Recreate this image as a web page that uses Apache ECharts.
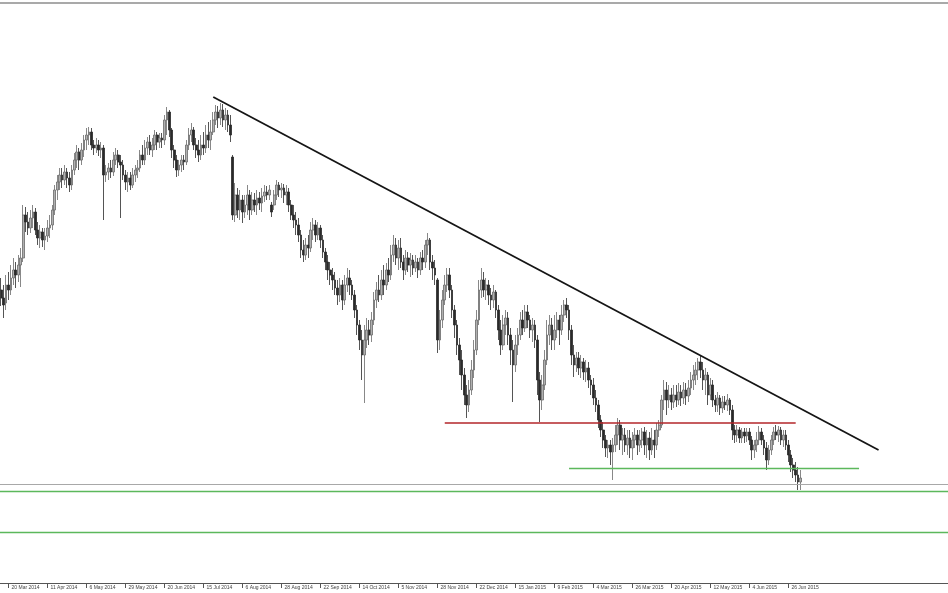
<!DOCTYPE html>
<html>
<head>
<meta charset="utf-8">
<script src="https://cdn.jsdelivr.net/npm/echarts@6/dist/echarts.min.js"></script>
<style>
html,body{margin:0;padding:0;background:#fff;}
#c{width:948px;height:593px;}
</style>
</head>
<body>
<div id="c"></div>
<script>
// Tick labels (every 16 bars, first at bar index 3)
const tickLabels = ['20 Mar 2014','11 Apr 2014','6 May 2014','29 May 2014','20 Jun 2014','15 Jul 2014','6 Aug 2014','28 Aug 2014','22 Sep 2014','14 Oct 2014','5 Nov 2014','28 Nov 2014','22 Dec 2014','15 Jan 2015','9 Feb 2015','4 Mar 2015','26 Mar 2015','20 Apr 2015','12 May 2015','4 Jun 2015','26 Jun 2015'];
const firstTickBar = 3;
const barsPerTick = 16;
const totalSlots = 389; // bars + empty right margin (chart shift)

// Daily bars: [open, close, low, high]
const ohlc = [
[310,302,294,322],[302,295,282,315],[297,315,290,325],[315,310,300,328],[310,322,305,335],
[322,330,315,342],[330,325,312,338],[325,335,318,345],[335,342,313,352],[342,385,338,395],
[385,378,368,393],[378,372,365,388],[372,382,367,390],[382,388,372,395],[388,370,365,392],
[370,362,355,378],[362,368,352,375],[368,360,353,372],[360,364,350,372],[364,372,358,380],
[372,375,362,385],[375,390,370,395],[390,410,385,415],[410,418,400,425],[418,425,410,432],
[425,420,412,432],[420,428,415,435],[428,422,412,432],[422,415,408,428],[415,430,410,435],
[430,440,425,447],[440,448,432,455],[448,440,430,452],[440,450,435,457],[450,460,443,465],
[460,465,450,472],[465,468,455,473],[468,455,450,472],[455,452,445,460],[452,455,447,462],
[455,450,444,460],[450,452,442,458],[452,425,380,455],[425,428,418,435],[428,432,420,437],
[432,428,422,440],[428,440,424,448],[440,445,435,452],[445,438,432,450],[438,435,382,445],
[435,425,420,440],[425,418,410,430],[418,422,408,428],[422,415,410,428],[415,425,412,432],
[425,430,418,435],[430,432,422,440],[432,445,428,450],[445,440,435,455],[440,452,435,460],
[452,458,445,463],[458,450,445,465],[450,455,443,462],[455,465,450,470],[465,458,450,468],
[458,462,452,467],[462,460,452,467],[460,480,455,485],[480,488,465,493],[488,470,463,490],
[470,450,442,472],[450,440,432,455],[440,430,423,445],[430,435,424,440],[435,440,428,445],
[440,438,430,445],[438,455,435,460],[455,465,450,472],[465,470,458,477],[470,455,450,473],
[455,450,442,462],[450,445,438,460],[445,455,440,465],[455,452,445,468],[452,465,447,475],
[465,460,452,478],[460,468,450,480],[468,480,465,488],[480,488,475,495],[488,482,472,494],
[482,490,475,497],[490,480,473,496],[480,485,470,492],[485,475,468,490],[475,465,458,485],
[443,385,380,445],[385,405,378,417],[405,390,382,412],[390,400,380,410],[400,388,377,405],
[388,395,382,405],[395,405,385,415],[405,390,380,410],[390,400,385,408],[400,395,388,407],
[395,402,385,410],[402,397,390,408],[397,404,388,412],[404,408,398,415],[408,405,400,414],
[405,410,400,415],[395,388,383,398],[395,405,390,410],[405,415,400,420],[415,410,403,418],
[410,412,402,417],[412,405,397,416],[405,408,395,415],[408,395,388,412],[395,385,380,400],
[385,380,372,395],[380,375,365,388],[375,365,358,382],[365,350,342,370],[350,345,338,360],
[345,355,340,362],[355,352,342,365],[352,370,348,378],[370,375,360,382],[375,365,358,380],
[365,372,360,378],[372,360,352,375],[360,348,342,365],[348,338,330,352],[338,330,320,345],
[330,325,315,338],[325,320,310,332],[320,312,305,328],[312,305,295,320],[305,315,298,322],
[315,300,290,320],[300,315,295,325],[315,322,308,332],[322,315,305,330],[315,305,300,320],
[305,290,282,310],[290,275,265,295],[275,260,250,280],[260,245,220,270],[245,260,197,275],
[260,270,252,282],[270,265,255,280],[265,280,258,288],[280,300,275,308],[300,310,292,318],
[310,305,298,325],[305,320,300,330],[320,315,305,335],[315,330,310,337],[330,325,318,342],
[325,345,320,355],[345,355,338,365],[355,342,335,362],[342,352,330,360],[352,338,332,362],
[338,330,320,345],[330,342,325,350],[342,335,328,348],[335,340,323,347],[340,332,325,345],
[332,338,328,345],[338,330,322,342],[330,342,325,348],[342,338,330,350],[338,355,332,360],
[355,360,345,367],[360,338,330,362],[338,332,320,345],[332,325,315,340],[320,260,247,322],
[260,280,250,290],[280,300,272,310],[300,315,295,325],[315,325,308,332],[325,310,302,332],
[310,290,282,315],[290,275,262,295],[275,255,245,280],[255,240,225,262],[240,225,210,250],
[225,205,195,232],[205,195,182,215],[195,210,188,220],[210,230,205,240],[230,250,222,260],
[250,280,245,290],[280,310,275,320],[310,320,302,332],[320,310,303,328],[310,315,300,322],
[315,305,295,320],[305,300,290,312],[300,308,292,315],[308,290,282,310],[290,270,260,295],
[270,255,245,280],[255,275,250,285],[275,282,265,290],[282,265,255,288],[265,250,235,272],
[250,235,198,260],[235,255,228,265],[255,265,245,272],[265,280,260,288],[280,272,265,290],
[272,288,268,295],[288,280,272,295],[280,270,262,285],[270,275,258,282],[275,260,252,280],
[260,220,205,265],[220,200,178,228],[200,215,190,225],[215,240,210,250],[240,265,235,280],
[265,275,255,285],[275,260,250,282],[260,270,250,285],[270,280,262,288],[280,270,255,285],
[270,285,265,295],[285,295,278,300],[295,290,282,302],[290,270,260,295],[270,245,235,275],
[245,235,223,255],[235,242,228,248],[242,232,225,248],[232,238,222,245],[238,228,220,242],
[228,232,218,240],[232,220,212,238],[220,215,205,225],[215,202,195,222],[202,195,188,210],
[195,180,172,200],[180,170,163,185],[170,160,152,178],[160,152,143,165],[152,155,142,160],
[155,148,135,160],[148,155,120,162],[155,165,148,175],[165,175,155,182],[175,160,150,180],
[160,165,145,172],[165,155,148,172],[155,162,145,170],[162,152,142,170],[152,160,140,168],
[160,165,152,172],[165,155,145,170],[155,160,148,170],[160,168,152,172],[168,155,145,173],
[155,162,142,170],[162,150,140,168],[150,160,145,172],[160,155,142,170],[155,170,150,177],
[170,175,163,180],[175,200,172,205],[200,210,190,220],[210,200,185,218],[200,205,192,215],
[205,198,190,212],[198,205,192,215],[205,200,193,215],[200,208,195,217],[208,202,194,215],
[202,210,196,218],[210,204,195,217],[204,212,198,220],[212,220,205,228],[220,225,210,235],
[225,230,215,238],[230,238,220,242],[238,230,222,244],[230,220,210,238],[220,225,205,232],
[225,205,195,228],[205,215,200,222],[215,200,193,220],[200,195,188,205],[195,202,188,208],
[202,192,185,205],[192,198,187,204],[198,195,190,204],[195,200,189,206],[200,190,185,202],
[190,170,160,195],[170,165,157,175],[165,170,158,175],[170,162,157,173],[162,168,157,172],
[168,164,157,172],[164,168,158,172],[168,160,155,172],[160,150,140,164],[150,155,142,160],
[155,160,148,168],[160,168,155,174],[168,160,155,172],[160,152,145,165],[152,140,130,158],
[140,150,135,155],[150,160,145,165],[160,168,155,173],[168,165,160,175],[165,170,158,174],
[170,160,155,173],[160,165,153,170],[165,155,150,170],[155,145,138,160],[145,135,128,150],
[135,130,122,142],[130,125,118,138],[125,118,110,133],[118,122,110,130]
];

// Drawn analysis lines
const trendLine = [[87, 503], [360, 150]];          // [bar index, price]
const resistanceLine = [[182, 177], [326, 177]];    // red
const supportShort = [[233, 132], [352, 132]];      // green, partial
const fullGreenLevels = [109, 67.5];
const bidLevel = 116;
const topBorderLevel = 597.5;

const cats = [];
for (let i = 0; i < totalSlots; i++) cats.push(String(i));
const isTick = (i) => i >= firstTickBar && (i - firstTickBar) % barsPerTick === 0 && (i - firstTickBar) / barsPerTick < tickLabels.length;

const chart = echarts.init(document.getElementById('c'), null, {renderer: 'canvas'});
const mlData = [
  [{coord: [trendLine[0][0], trendLine[0][1]], lineStyle: {color: '#151515', width: 1.8, type: 'solid'}}, {coord: [trendLine[1][0], trendLine[1][1]]}],
  [{coord: [resistanceLine[0][0], resistanceLine[0][1]], lineStyle: {color: '#b3262a', width: 1.6, type: 'solid'}}, {coord: [resistanceLine[1][0], resistanceLine[1][1]]}],
  [{coord: [supportShort[0][0], supportShort[0][1]], lineStyle: {color: '#5cb85c', width: 1.4, type: 'solid'}}, {coord: [supportShort[1][0], supportShort[1][1]]}],
  {yAxis: bidLevel, lineStyle: {color: '#a8a8a8', width: 1, type: 'solid'}},
  {yAxis: topBorderLevel, lineStyle: {color: '#8c8c8c', width: 1.5, type: 'solid'}}
].concat(fullGreenLevels.map(v => ({yAxis: v, lineStyle: {color: '#5cb85c', width: 1.4, type: 'solid'}})));

chart.setOption({
  animation: false,
  backgroundColor: '#ffffff',
  grid: {left: 0, right: 0, top: 2, bottom: 10, containLabel: false},
  xAxis: {
    type: 'category',
    data: cats,
    boundaryGap: true,
    axisLine: {show: true, lineStyle: {color: '#555', width: 1}},
    axisTick: {show: true, alignWithLabel: true, length: 5, interval: (i) => isTick(i), lineStyle: {color: '#555'}},
    axisLabel: {
      show: true,
      interval: (i) => isTick(i),
      formatter: (v, i) => isTick(i) ? tickLabels[(i - firstTickBar) / barsPerTick] : '',
      align: 'left',
      verticalAlign: 'top',
      margin: 2,
      padding: [0, 0, 0, 3],
      fontSize: 5,
      fontFamily: '"Liberation Sans Narrow", "Liberation Sans", sans-serif',
      color: '#444'
    },
    splitLine: {show: false}
  },
  yAxis: {
    type: 'value',
    min: 17,
    max: 598,
    show: false,
    splitLine: {show: false}
  },
  series: [{
    type: 'candlestick',
    data: ohlc,
    barWidth: 2.2,
    itemStyle: {
      color: '#b0b0b0',
      color0: '#2a2a2a',
      borderColor: '#6a6a6a',
      borderColor0: '#2a2a2a',
      borderWidth: 0.8
    },
    markLine: {
      silent: true,
      symbol: ['none', 'none'],
      label: {show: false},
      emphasis: {disabled: true},
      animation: false,
      data: mlData
    }
  }]
});
</script>
</body>
</html>
